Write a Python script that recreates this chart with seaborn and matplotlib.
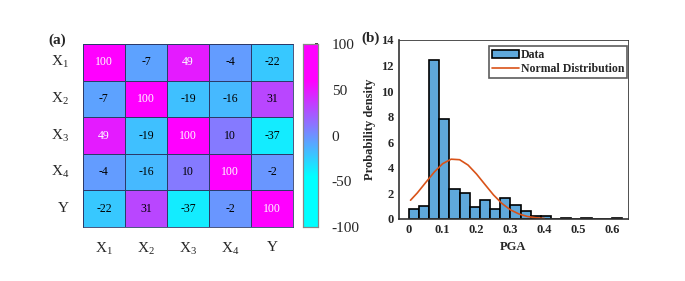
import numpy as np
import pandas as pd
import seaborn as sns
import matplotlib.pyplot as plt
from matplotlib.colors import LinearSegmentedColormap
from matplotlib.lines import Line2D
from matplotlib.patches import Patch

# correlation matrix (a)
var_names = ["X$_1$", "X$_2$", "X$_3$", "X$_4$", "Y"]
corr_x1 = [100, -7, 49, -4, -22]
corr_x2 = [-7, 100, -19, -16, 31]
corr_x3 = [49, -19, 100, 10, -37]
corr_x4 = [-4, -16, 10, 100, -2]
corr_y = [-22, 31, -37, -2, 100]

# histogram (b): bin edges and density heights
bin_left = [0.00, 0.03, 0.06, 0.09, 0.12, 0.15, 0.18, 0.21, 0.24, 0.27,
            0.30, 0.33, 0.36, 0.39, 0.42, 0.45, 0.48, 0.51, 0.54, 0.57, 0.60]
bin_density = [0.75, 1.0, 12.45, 7.85, 2.3, 2.0, 0.9, 1.45, 0.8, 1.65,
               1.05, 0.65, 0.2, 0.2, 0.0, 0.05, 0.0, 0.05, 0.0, 0.0, 0.05]
bin_width = 0.03

# fitted normal curve
curve_x = [0.005, 0.025, 0.05, 0.075, 0.10, 0.125, 0.15, 0.175, 0.20,
           0.225, 0.25, 0.275, 0.30, 0.325, 0.35, 0.375, 0.40]
curve_y = [1.46, 2.03, 2.85, 3.66, 4.32, 4.67, 4.63, 4.21, 3.51,
           2.69, 1.88, 1.21, 0.71, 0.39, 0.19, 0.09, 0.04]

sns.set_theme(style="white")
plt.rcParams["font.family"] = ["Liberation Serif", "DejaVu Serif"]
plt.rcParams["mathtext.default"] = "regular"
plt.rcParams["axes.unicode_minus"] = False

# cool map, saturated at both ends like the reference colour bar
cool_sat = LinearSegmentedColormap.from_list(
    "cool_sat",
    [(0.0, "#00ffff"), (0.275, "#00ffff"), (0.8, "#ff00ff"), (1.0, "#ff00ff")])

fig = plt.figure(figsize=(6.85, 2.81), dpi=100)

# ---- (a) heatmap ----
corr = pd.DataFrame([corr_x1, corr_x2, corr_x3, corr_x4, corr_y],
                    index=var_names, columns=var_names)
ax1 = fig.add_axes([0.121, 0.192, 0.307, 0.651])
cax = fig.add_axes([0.442, 0.192, 0.022, 0.651])
sns.heatmap(corr, ax=ax1, cbar_ax=cax, cmap=cool_sat, vmin=-100, vmax=100,
            annot=False, linewidths=0.6, linecolor="#2b3a6a")
for i, row in enumerate(corr.values):
    for j, v in enumerate(row):
        ax1.text(j + 0.5, i + 0.5, str(v), ha="center", va="center",
                 fontsize=8.5, color="white" if v > 40 else "black")
ax1.tick_params(axis="both", length=0, labelsize=11, pad=10)
ax1.set_yticklabels(var_names, rotation=0)
ax1.set_xticklabels(var_names, rotation=0)
ax1.set_xlabel("")
ax1.set_ylabel("")
for s in ax1.spines.values():
    s.set_visible(True)
    s.set_color("#2b3a6a")
    s.set_linewidth(0.6)
cax.set_yticks([-100, -50, 0, 50, 100])
cax.tick_params(labelsize=11, length=2, direction="in", pad=10)
for s in cax.spines.values():
    s.set_visible(True)
    s.set_color("#888888")
    s.set_linewidth(0.8)
fig.text(0.07, 0.858, "(a)", fontsize=11, fontweight="bold", va="center")

# ---- (b) histogram ----
ax2 = fig.add_axes([0.582, 0.221, 0.335, 0.637])
hist_df = pd.DataFrame({"pga": [b + bin_width / 2 for b in bin_left],
                        "density": bin_density})
edges = list(bin_left) + [bin_left[-1] + bin_width]
sns.histplot(data=hist_df, x="pga", weights="density", bins=edges,
             color="#5fa8db", edgecolor="black", linewidth=1.2, alpha=1,
             ax=ax2)
sns.lineplot(x=curve_x, y=curve_y, color="#d95319", linewidth=1.2, ax=ax2)
ax2.set_xlim(-0.03, 0.648)
ax2.set_ylim(0, 14)
ax2.set_xticks([0, 0.1, 0.2, 0.3, 0.4, 0.5, 0.6])
ax2.set_xticklabels(["0", "0.1", "0.2", "0.3", "0.4", "0.5", "0.6"])
ax2.set_yticks(range(0, 15, 2))
ax2.tick_params(direction="in", length=3, labelsize=9, width=0.8,
                top=False, right=False)
for lab in ax2.get_xticklabels() + ax2.get_yticklabels():
    lab.set_fontweight("bold")
ax2.set_xlabel("PGA", fontsize=9, fontweight="bold")
ax2.set_ylabel("Probability density", fontsize=9, fontweight="bold")
ax2.spines["left"].set_linewidth(1.2)
ax2.spines["bottom"].set_linewidth(1.2)
ax2.spines["top"].set_linewidth(0.6)
ax2.spines["right"].set_linewidth(0.6)
for s in ax2.spines.values():
    s.set_color("#333333")
handles = [Patch(facecolor="#5fa8db", edgecolor="black", linewidth=1.2),
           Line2D([0], [0], color="#d95319", linewidth=1.2)]
leg = ax2.legend(handles, ["Data", "Normal Distribution"], loc="upper right",
                 prop={"weight": "bold", "size": 8.5}, frameon=True,
                 fancybox=False, borderpad=0.25, handlelength=2.3,
                 handletextpad=0.1, labelspacing=0.15, borderaxespad=0.1,
                 bbox_to_anchor=(1.0, 0.97))
leg.get_frame().set_edgecolor("#333333")
leg.get_frame().set_linewidth(1.2)
fig.text(0.527, 0.865, "(b)", fontsize=11, fontweight="bold", va="center")

fig.savefig("out.png", dpi=100)
